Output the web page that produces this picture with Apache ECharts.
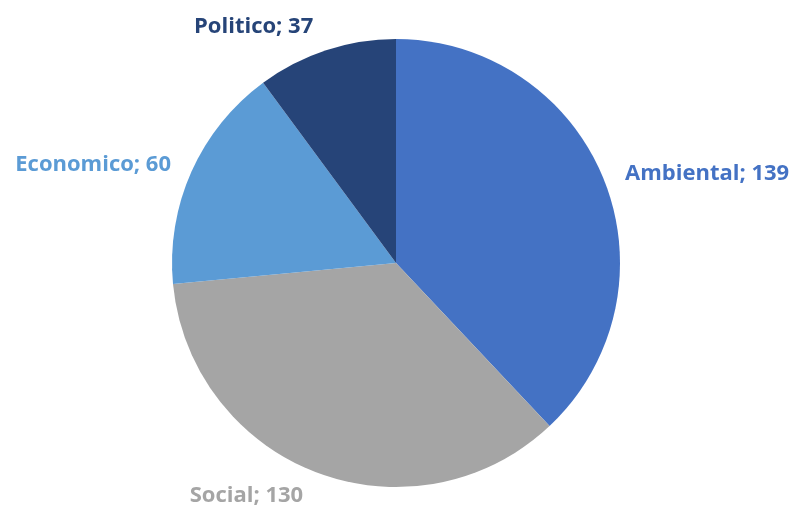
<!DOCTYPE html>
<html>
<head>
<meta charset="utf-8">
<script src="https://cdn.jsdelivr.net/npm/echarts@6/dist/echarts.min.js"></script>
<style>html,body{margin:0;padding:0;background:#fff}#c{width:798px;height:517px}</style>
</head>
<body>
<div id="c"></div>
<script>
const categories = ['Ambiental', 'Social', 'Economico', 'Politico'];
const values = [139, 130, 60, 37];
const colors = ['#4472C4', '#A5A5A5', '#5B9BD5', '#264478'];
const labelLen = [17, 25, 17, 25];

const chart = echarts.init(document.getElementById('c'));
chart.setOption({
  animation: false,
  series: [{
    type: 'pie',
    center: [396, 263],
    radius: 224,
    startAngle: 90,
    clockwise: true,
    avoidLabelOverlap: false,
    data: categories.map((n, i) => ({
      name: n, value: values[i],
      itemStyle: { color: colors[i] },
      label: { color: colors[i] },
      labelLine: { show: false, length: labelLen[i], length2: 0 }
    })),
    itemStyle: { borderColor: '#fff', borderWidth: 0 },
    label: {
      show: true,
      position: 'outside',
      formatter: '{b}; {c}',
      fontFamily: 'Open Sans',
      fontWeight: 'bold',
      fontSize: 22
    },
    labelLine: { show: false, length: 25, length2: 0 }
  }]
});
</script>
</body>
</html>
